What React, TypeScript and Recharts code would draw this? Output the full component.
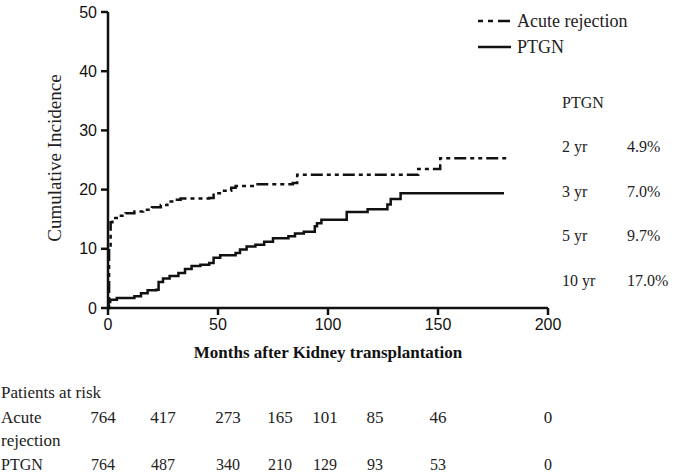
import React from "react"
import { LineChart, Line, XAxis, YAxis } from "recharts"

// cumulative incidence (%), [month, value]
const acuteMonths = [0, 0.5, 1.2, 2, 5, 8, 12, 16, 20, 24, 27, 30, 33, 46, 48, 52, 56, 58, 68, 84, 86, 141, 151, 182]
const acuteValues = [0, 10, 14.5, 15.2, 15.6, 16, 16.3, 16.6, 17, 17.4, 18, 18.3, 18.5, 18.6, 19.4, 19.8, 20.3, 20.6, 20.9, 21.1, 22.5, 23.5, 25.3, 25.3]

const ptgnMonths = [0, 0.3, 1, 4, 12, 15, 18, 22, 23, 25, 28, 32, 35, 38, 42, 46, 48, 51, 58, 60, 63, 67, 71, 75, 82, 85, 89, 94, 95, 97, 108.5, 118, 127, 128.5, 133, 180]
const ptgnValues = [0, 1.0, 1.4, 1.7, 2.0, 2.5, 3.0, 3.1, 4.4, 5.0, 5.4, 5.9, 6.6, 7.1, 7.3, 7.6, 8.5, 8.9, 9.3, 9.9, 10.4, 10.7, 11.2, 11.8, 12.1, 12.6, 12.9, 13.8, 14.3, 14.9, 16.2, 16.7, 17.5, 18.4, 19.4, 19.4]

const xTicks = [0, 50, 100, 150, 200]
const yTicks = [0, 10, 20, 30, 40, 50]

const ptgnYears = ["2 yr", "3 yr", "5 yr", "10 yr"]
const ptgnRates = ["4.9%", "7.0%", "9.7%", "17.0%"]

const riskAcute = [764, 417, 273, 165, 101, 85, 46, 0]
const riskPtgn = [764, 487, 340, 210, 129, 93, 53, 0]

// where the risk numbers sit across the page
const riskX = [103, 163, 228, 280, 325, 375, 438, 548]

const acuteData = acuteMonths.map((m, i) => ({ m, v: acuteValues[i] }))
const ptgnData = ptgnMonths.map((m, i) => ({ m, v: ptgnValues[i] }))

const serif = "'Liberation Serif', 'DejaVu Serif', serif"
const sans = "'Liberation Sans', Arial, sans-serif"
const dash = "4 4 4 4 12 4"

export default function App() {
  return (
    <div style={{ position: "fixed", left: 0, top: 0, width: 680, height: 476, background: "#fff" }}>
      <LineChart
        width={680}
        height={476}
        margin={{ top: 12, right: 132, left: 48, bottom: 138 }}
      >
        <XAxis
          type="number"
          dataKey="m"
          domain={[0, 200]}
          ticks={xTicks}
          allowDataOverflow
          height={30}
          stroke="#111"
          strokeWidth={2.5}
          tickSize={7}
          tickLine={{ stroke: "#111", strokeWidth: 2.5 }}
          tick={{ fill: "#111", fontSize: 16, fontFamily: sans }}
          tickMargin={4}
        />
        <YAxis
          type="number"
          domain={[0, 50]}
          ticks={yTicks}
          width={60}
          stroke="#111"
          strokeWidth={2.5}
          tickSize={7}
          tickLine={{ stroke: "#111", strokeWidth: 2.5 }}
          tick={{ fill: "#111", fontSize: 16, fontFamily: sans }}
          tickMargin={4}
        />
        <Line
          data={acuteData}
          dataKey="v"
          type="stepAfter"
          stroke="#111"
          strokeWidth={2.5}
          strokeDasharray={dash}
          dot={false}
          isAnimationActive={false}
        />
        <Line
          data={ptgnData}
          dataKey="v"
          type="stepAfter"
          stroke="#111"
          strokeWidth={2.5}
          dot={false}
          isAnimationActive={false}
        />
      </LineChart>

      <svg
        width={680}
        height={476}
        style={{ position: "absolute", left: 0, top: 0, pointerEvents: "none" }}
        fontFamily={serif}
      >
        {/* axis titles */}
        <text
          x={0}
          y={0}
          transform="translate(61,158) rotate(-90)"
          textAnchor="middle"
          fontSize={19}
          fill="#222"
        >
          Cumulative Incidence
        </text>
        <text x={328} y={358} textAnchor="middle" fontSize={17} fontWeight="bold" fill="#111">
          Months after Kidney transplantation
        </text>

        {/* legend */}
        <line x1={478} y1={21} x2={511} y2={21} stroke="#111" strokeWidth={2.5} strokeDasharray="5 5 5 5 12" />
        <text x={517} y={27} fontSize={18} fill="#222">Acute rejection</text>
        <line x1={478} y1={47} x2={511} y2={47} stroke="#111" strokeWidth={2.5} />
        <text x={517} y={53} fontSize={18} fill="#222">PTGN</text>

        {/* PTGN incidence table */}
        <text x={562} y={108} fontSize={16} fill="#222">PTGN</text>
        {ptgnYears.map((yr, i) => (
          <g key={yr}>
            <text x={562} y={152 + i * 44.5} fontSize={16} fill="#222">{yr}</text>
            <text x={627} y={152 + i * 44.5} fontSize={16} fill="#222">{ptgnRates[i]}</text>
          </g>
        ))}

        {/* patients at risk */}
        <text x={1} y={398} fontSize={17} fill="#222">Patients at risk</text>
        <text x={1} y={423} fontSize={17} fill="#222">Acute</text>
        <text x={1} y={446} fontSize={17} fill="#222">rejection</text>
        <text x={1} y={470} fontSize={16} fill="#222">PTGN</text>
        {riskAcute.map((n, i) => (
          <text key={"a" + i} x={riskX[i]} y={423} textAnchor="middle" fontSize={17} fill="#222">{n}</text>
        ))}
        {riskPtgn.map((n, i) => (
          <text key={"p" + i} x={riskX[i]} y={470} textAnchor="middle" fontSize={16} fill="#222">{n}</text>
        ))}
      </svg>
    </div>
  )
}
